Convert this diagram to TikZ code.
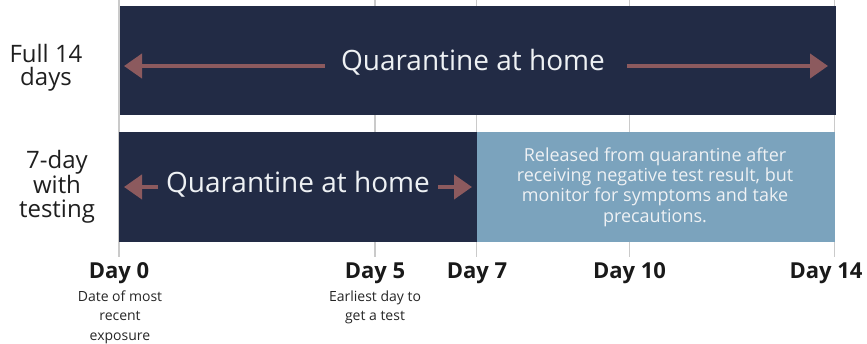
\documentclass[tikz,border=0pt]{standalone}
\usepackage{fontspec}
\setmainfont{Open Sans}
\usetikzlibrary{arrows.meta}
\definecolor{navy}{HTML}{222B45}
\definecolor{steel}{HTML}{7BA3BD}
\definecolor{rose}{HTML}{8C5A5E}
\definecolor{gridc}{HTML}{CACACA}
\definecolor{txtw}{HTML}{EEF1F4}
\tikzset{
  bar/.style={draw=none, inner sep=0pt, anchor=north west},
  qarrow/.style={draw=rose, line width=4pt, -{Triangle[length=18pt,width=24pt]}},
  gridline/.style={draw=gridc, line width=1.3pt},
  daylbl/.style={font=\fontsize{22}{24}\selectfont\bfseries, text=black!90, anchor=base},
  note/.style={font=\fontsize{14}{19.5}\selectfont, text=black!85, align=center, anchor=north},
  rowlbl/.style={font=\fontsize{24}{23.5}\selectfont, text=black!88, align=center},
  bigtxt/.style={font=\fontsize{28}{30}\selectfont, text=txtw}
}
\begin{document}
\begin{tikzpicture}[x=1pt,y=-1pt]
\useasboundingbox (0,0) rectangle (867,344);
% grid lines
\foreach \n/\x in {g0/119,g5/375,g7/476.5,g10/629.5,g14/834.5}{
  \coordinate (\n t) at (\x,0);
  \coordinate (\n b) at (\x,257);
  \draw[gridline] (\n t) -- (\n b);
}
% bars
\node[bar, fill=navy, minimum width=716pt, minimum height=109pt] (full) at (120,6) {};
\node[bar, fill=navy, minimum width=358pt, minimum height=110pt] (q7) at (118.5,132) {};
\node[bar, fill=steel, minimum width=358pt, minimum height=110pt] (rel) at (476.5,132) {};
% top row
\node[bigtxt] (fulltxt) at (473,62) {Quarantine at home};
\coordinate (a1s) at (325,66); \coordinate (a1e) at (124,66);
\coordinate (a2s) at (627,66); \coordinate (a2e) at (828,66);
\draw[qarrow] (a1s) -- (a1e);
\draw[qarrow] (a2s) -- (a2e);
% bottom row
\node[bigtxt] (q7txt) at (298,184) {Quarantine at home};
\coordinate (b1s) at (158,187); \coordinate (b1e) at (124,187);
\coordinate (b2s) at (438,187); \coordinate (b2e) at (472,187);
\draw[qarrow] (b1s) -- (b1e);
\draw[qarrow] (b2s) -- (b2e);
\node[font=\fontsize{18}{20.3}\selectfont, text=txtw, align=center] (reltxt) at (655,187)
  {Released from quarantine after\\receiving negative test result, but\\monitor for symptoms and take\\precautions.};
% row labels
\node[rowlbl] (r1) at (46,68) {Full 14\\days};
\node[rowlbl] (r2) at (57,187) {7-day\\with\\testing};
% day labels
\node[daylbl] (d0) at (119,279) {Day 0};
\node[daylbl] (d5) at (375,279) {Day 5};
\node[daylbl] (d7) at (477,279) {Day 7};
\node[daylbl] (d10) at (629.5,279) {Day 10};
\node[daylbl] (d14) at (826,279) {Day 14};
\node[note] (n0) at (120,287) {Date of most\\recent\\exposure};
\node[note] (n5) at (375,287) {Earliest day to\\get a test};
\end{tikzpicture}
\end{document}
